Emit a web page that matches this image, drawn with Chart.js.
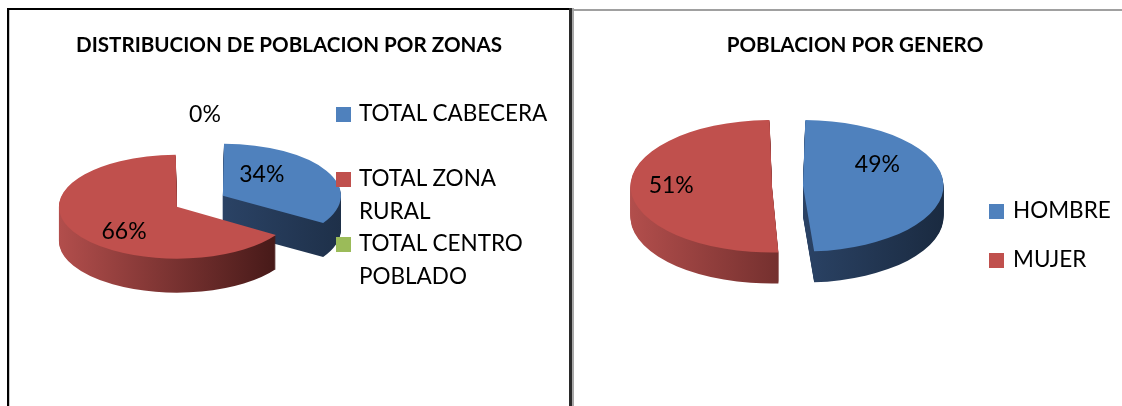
<!DOCTYPE html>
<html>
<head>
<meta charset="utf-8">
<script src="https://cdn.jsdelivr.net/npm/chart.js@4.4.1/dist/chart.umd.min.js"></script>
<style>
body { margin: 0; background: #fff; font-family: Lato, "Open Sans", sans-serif; color: #000; }
#page { position: relative; width: 1122px; height: 406px; overflow: hidden; }
canvas { position: absolute; top: 0; }
.rule { position: absolute; z-index: 2; }
.title { position: absolute; top: 32px; font-weight: bold; font-size: 20.6px; line-height: 24px; white-space: nowrap; transform: translateX(-50%); }
.legend { position: absolute; font-size: 22.5px; line-height: 32.5px; }
.legend .item { position: relative; }
.legend .box { position: absolute; left: 0; top: 10px; width: 15px; height: 15px; }
</style>
</head>
<body>
<div id="page">
  <canvas id="chart-zonas" width="570" height="406" style="left:0"></canvas>
  <canvas id="chart-genero" width="552" height="406" style="left:570px"></canvas>

  <div class="rule" style="left:7px;top:8px;width:562px;height:2px;background:#000"></div>
  <div class="rule" style="left:7px;top:8px;width:2px;height:398px;background:#000"></div>
  <div class="rule" style="left:9px;top:10px;width:1px;height:396px;background:#c8c8c8"></div>
  <div class="rule" style="left:569px;top:8px;width:3px;height:398px;background:#2a2a2a"></div>
  <div class="rule" style="left:572px;top:8px;width:2px;height:398px;background:#a8a8a8"></div>
  <div class="rule" style="left:572px;top:9px;width:550px;height:2px;background:#a0a0a0"></div>

  <div class="title" style="left:289px">DISTRIBUCION DE POBLACION POR ZONAS</div>
  <div class="title" style="left:855px">POBLACION POR GENERO</div>

  <div class="legend" id="legend-zonas" style="left:336px;top:97px;width:218px"></div>
  <div class="legend" id="legend-genero" style="left:989px;top:194px;width:130px"></div>
</div>

<script>
// datos (porcentajes)
var zonaLabels = ["TOTAL CABECERA", "TOTAL ZONA RURAL", "TOTAL CENTRO POBLADO"];
var zonaValues = [34, 66, 0];
var generoLabels = ["HOMBRE", "MUJER"];
var generoValues = [49, 51];

var zonaColors = ["#4f81bd", "#c0504d", "#9bbb59"];
var generoColors = ["#4f81bd", "#c0504d"];

// pseudo 3D: aplasta el pastel y dibuja el canto debajo
var tilt3d = {
    id: "tilt3d",
    beforeDatasetsDraw: function(chart, args, opts) {
        var ctx = chart.ctx;
        var arcs = chart.getDatasetMeta(0).data;
        var cx = arcs[0].x;
        var cy = arcs[0].y;
        var order = arcs.slice().sort(function(a, b) {
            return Math.sin((a.startAngle + a.endAngle) / 2) - Math.sin((b.startAngle + b.endAngle) / 2);
        });
        order.forEach(function(el) {
            var i = arcs.indexOf(el);
            var R = el.outerRadius + (el.options.offset || 0) / 4;
            var grad = ctx.createLinearGradient(cx - R, 0, cx + R, 0);
            grad.addColorStop(0, opts.sideLight[i]);
            grad.addColorStop(1, opts.sideDark[i]);
            var side = Object.create(el);
            side.options = Object.assign({}, el.options, { backgroundColor: grad, borderWidth: 0 });
            for (var d = opts.depth; d > 0; d--) {
                ctx.save();
                ctx.translate(0, cy + d);
                ctx.scale(1, opts.squash);
                ctx.translate(0, -cy);
                side.draw(ctx);
                ctx.restore();
            }
        });
        ctx.save();
        ctx.translate(0, cy);
        ctx.scale(1, opts.squash);
        ctx.translate(0, -cy);
    },
    afterDatasetsDraw: function(chart, args, opts) {
        var ctx = chart.ctx;
        ctx.restore();
        var arcs = chart.getDatasetMeta(0).data;
        var values = chart.data.datasets[0].data;
        var total = values.reduce(function(s, v) { return s + v; }, 0);
        var cy = arcs[0].y;
        ctx.save();
        ctx.font = "23px Lato";
        ctx.fillStyle = "#000";
        ctx.textAlign = "center";
        ctx.textBaseline = "middle";
        arcs.forEach(function(el, i) {
            var mid = (el.startAngle + el.endAngle) / 2;
            var off = (el.options.offset || 0) / 4;
            var sx = el.x + Math.cos(mid) * off;
            var sy = el.y + Math.sin(mid) * off;
            var a = mid + opts.labelShift[i] * Math.PI / 180;
            var r = el.outerRadius * opts.labelDist[i];
            var px = sx + Math.cos(a) * r;
            var py = cy + (sy + Math.sin(a) * r - cy) * opts.squash;
            ctx.fillText(Math.round(values[i] / total * 100) + "%", px, py);
        });
        ctx.restore();
    }
};

function makeLegend(id, labels, colors, itemHeight) {
    var box = document.getElementById(id);
    for (var i = 0; i < labels.length; i++) {
        var item = document.createElement("div");
        item.className = "item";
        item.style.height = itemHeight + "px";
        item.style.paddingLeft = (id == "legend-zonas" ? 23 : 24) + "px";
        item.innerHTML = '<span class="box" style="background:' + colors[i] + '"></span>' + labels[i];
        box.appendChild(item);
    }
}

function makePie(canvasId, labels, values, colors, offsets, radius, padding, plug) {
    var ctx = document.getElementById(canvasId).getContext("2d");
    return new Chart(ctx, {
        type: "pie",
        data: {
            labels: labels,
            datasets: [{
                data: values,
                backgroundColor: colors,
                borderWidth: 0,
                offset: offsets,
                radius: radius,
            }, ],
        },
        options: {
            responsive: false,
            animation: false,
            events: [],
            layout: { padding: padding },
            plugins: {
                legend: { display: false },
                tooltip: { enabled: false },
                tilt3d: plug,
            },
        },
        plugins: [tilt3d],
    });
}

makePie("chart-zonas", zonaLabels, zonaValues, zonaColors, [182, 28, 0], 111,
    { left: 0, right: 204, top: 4.6, bottom: 0 }, {
        squash: 0.44,
        depth: 34,
        sideLight: ["#3b5b8a", "#b24e4c", "#7a9a40"],
        sideDark: ["#1a2a40", "#3d1514", "#4a6020"],
        labelShift: [-22, -17.6, 6.1],
        labelDist: [0.555, 0.69, 1.86],
    });

makePie("chart-genero", generoLabels, generoValues, generoColors, [62, 62], 126,
    { left: 0, right: 117, top: 0, bottom: 34 }, {
        squash: 0.468,
        depth: 31,
        sideLight: ["#3b5b8a", "#b24e4c"],
        sideDark: ["#1a2a40", "#3d1514"],
        labelShift: [-29.4, 3],
        labelDist: [0.69, 0.8],
    });

makeLegend("legend-zonas", zonaLabels, zonaColors, 65);
makeLegend("legend-genero", generoLabels, generoColors, 49);
</script>
</body>
</html>
